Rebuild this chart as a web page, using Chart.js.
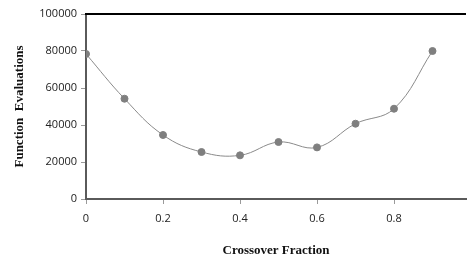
<!DOCTYPE html>
<html>
<head>
<meta charset="utf-8">
<script src="https://cdn.jsdelivr.net/npm/chart.js@4"></script>
<style>
  html, body { margin: 0; padding: 0; background: #fff; }
  #wrap { width: 471px; height: 259px; }
</style>
</head>
<body>
<div id="wrap"><canvas id="chart" width="471" height="259"></canvas></div>
<script>
// crossover fraction vs number of function evaluations
const fractions = [0, 0.1, 0.2, 0.3, 0.4, 0.5, 0.6, 0.7, 0.8, 0.9];
const evaluations = [78400, 54200, 34600, 25400, 23600, 30800, 27900, 40700, 48800, 80000];
const xTicks = [0, 0.2, 0.4, 0.6, 0.8];
const yTicks = [0, 20000, 40000, 60000, 80000, 100000];

// black line along the top of the plot area
const topBorder = {
  id: 'topBorder',
  afterDraw(chart) {
    const { ctx, chartArea } = chart;
    ctx.save();
    ctx.strokeStyle = '#000';
    ctx.lineWidth = 2;
    ctx.beginPath();
    ctx.moveTo(chartArea.left - 1, chartArea.top);
    ctx.lineTo(chartArea.right, chartArea.top);
    ctx.stroke();
    ctx.restore();
  }
};

const ctx = document.getElementById('chart').getContext('2d');
new Chart(ctx, {
  type: 'line',
  data: {
    datasets: [{
      data: fractions.map((f, i) => ({ x: f, y: evaluations[i] })),
      borderColor: '#8a8a8a',
      borderWidth: 1,
      tension: 0.4,
      pointRadius: 3.5,
      pointBackgroundColor: '#7f7f7f',
      pointBorderColor: '#7f7f7f',
    }],
  },
  options: {
    responsive: false,
    animation: false,
    layout: { padding: { top: 14, right: 0, left: 0, bottom: 0 } },
    plugins: { legend: { display: false }, tooltip: { enabled: false } },
    scales: {
      x: {
        type: 'linear',
        min: 0,
        max: 0.987,
        afterBuildTicks: s => { s.ticks = xTicks.map(v => ({ value: v })); },
        afterFit: s => { s.height = 60; },
        border: { color: '#5a5a5a', width: 2 },
        grid: { drawOnChartArea: false, tickLength: 5, color: '#9a9a9a' },
        ticks: {
          color: '#222',
          padding: 8,
          font: { family: 'Open Sans, Liberation Sans, sans-serif', size: 11 },
          callback: v => String(v),
        },
        title: {
          display: true,
          text: 'Crossover Fraction',
          color: '#111',
          padding: { top: 4, bottom: 1 },
          font: { family: 'Liberation Serif, Times New Roman, serif', size: 13, weight: 'bold' },
        },
      },
      y: {
        min: 0,
        max: 100000,
        afterBuildTicks: s => { s.ticks = yTicks.map(v => ({ value: v })); },
        afterFit: s => { s.width = 86; },
        border: { color: '#5a5a5a', width: 2 },
        grid: { drawOnChartArea: false, tickLength: 5, color: '#9a9a9a' },
        ticks: {
          color: '#222',
          padding: 4,
          font: { family: 'Open Sans, Liberation Sans, sans-serif', size: 11 },
          callback: v => String(v),
        },
        title: {
          display: true,
          text: 'Function  Evaluations',
          color: '#111',
          padding: { top: 12, bottom: 6 },
          font: { family: 'Liberation Serif, Times New Roman, serif', size: 13, weight: 'bold' },
        },
      },
    },
  },
  plugins: [topBorder],
});
</script>
</body>
</html>
